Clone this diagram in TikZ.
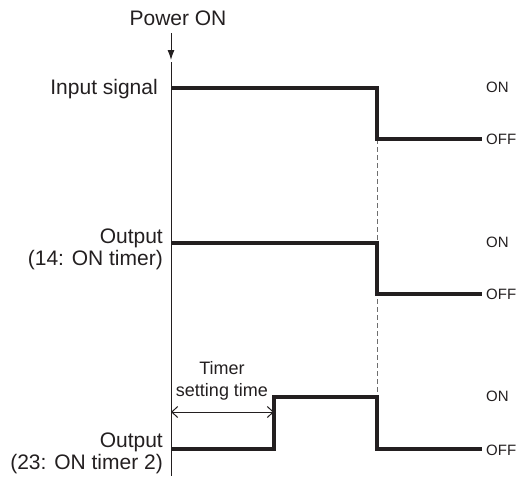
\documentclass[tikz,border=0pt]{standalone}
\usepackage{fontspec}
\setmainfont{Liberation Sans}
\usetikzlibrary{arrows.meta,positioning}
\definecolor{ink}{RGB}{35,31,32}
\definecolor{guide}{RGB}{110,110,110}

\begin{document}
\begin{tikzpicture}[x=1pt,y=-1pt,>=Latex,
  every node/.style={text=ink,inner sep=0pt},
  lbl/.style={font=\fontsize{21}{22}\selectfont,align=right,anchor=east},
  lvl/.style={font=\fontsize{15}{17}\selectfont,anchor=west},
  wave/.style={ink,line width=4pt,line join=miter}]
  \useasboundingbox (0,0) rectangle (523,479);

  % power on and time axis
  \node[font=\fontsize{21}{22}\selectfont] (power) at (178,18) {Power ON};
  \coordinate (pwrtip) at (171,60);
  \coordinate (axtop) at (171,62);
  \coordinate (axbot) at (171,476);
  \draw[-{Latex[length=10pt,width=7pt]},ink,line width=1pt] (171,33) -- (pwrtip);
  \draw[ink,line width=0.8pt] (axtop) -- (axbot);

  % coordinates of the signals
  \coordinate (in1) at (171,88);
  \coordinate (in2) at (377,88);
  \coordinate (in3) at (377,139);
  \coordinate (in4) at (482,139);
  \coordinate (oa1) at (171,243);
  \coordinate (oa2) at (377,243);
  \coordinate (oa3) at (377,294);
  \coordinate (oa4) at (482,294);
  \coordinate (ob1) at (171,449);
  \coordinate (ob2) at (274,449);
  \coordinate (ob3) at (274,397);
  \coordinate (ob4) at (377,397);
  \coordinate (ob5) at (377,449);
  \coordinate (ob6) at (482,449);

  % input off -> outputs off
  \draw[guide,line width=0.8pt,dash pattern=on 5pt off 3pt] (in3) -- (ob4);

  % input signal
  \node[lbl] (insig) at (158,89) {Input signal};
  \draw[wave] (in1) -- (in2) -- (in3) -- (in4);
  \node[lvl] (inon) at (486,87) {ON};
  \node[lvl] (inoff) at (486,139) {OFF};

  % output 14
  \node[lbl] (outa) at (163,249) {Output\\(14: ON timer)};
  \draw[wave] (oa1) -- (oa2) -- (oa3) -- (oa4);
  \node[lvl] (outaon) at (486,242) {ON};
  \node[lvl] (outaoff) at (486,294) {OFF};

  % output 23
  \node[lbl] (outb) at (163,453) {Output\\(23: ON timer 2)};
  \draw[wave] (ob1) -- (ob2) -- (ob3) -- (ob4) -- (ob5) -- (ob6);
  \node[lvl] (outbon) at (486,396) {ON};
  \node[lvl] (outboff) at (486,450) {OFF};

  % timer setting time
  \coordinate (tstart) at (171,412);
  \coordinate (tend) at (274,412);
  \draw[{Straight Barb[length=6pt,width=11pt]}-{Straight Barb[length=6pt,width=11pt]},ink,line width=1pt] (tstart) -- (tend);
  \node[font=\fontsize{18}{22}\selectfont,align=center] (timer) at (222,381) {Timer\\setting time};
\end{tikzpicture}
\end{document}
